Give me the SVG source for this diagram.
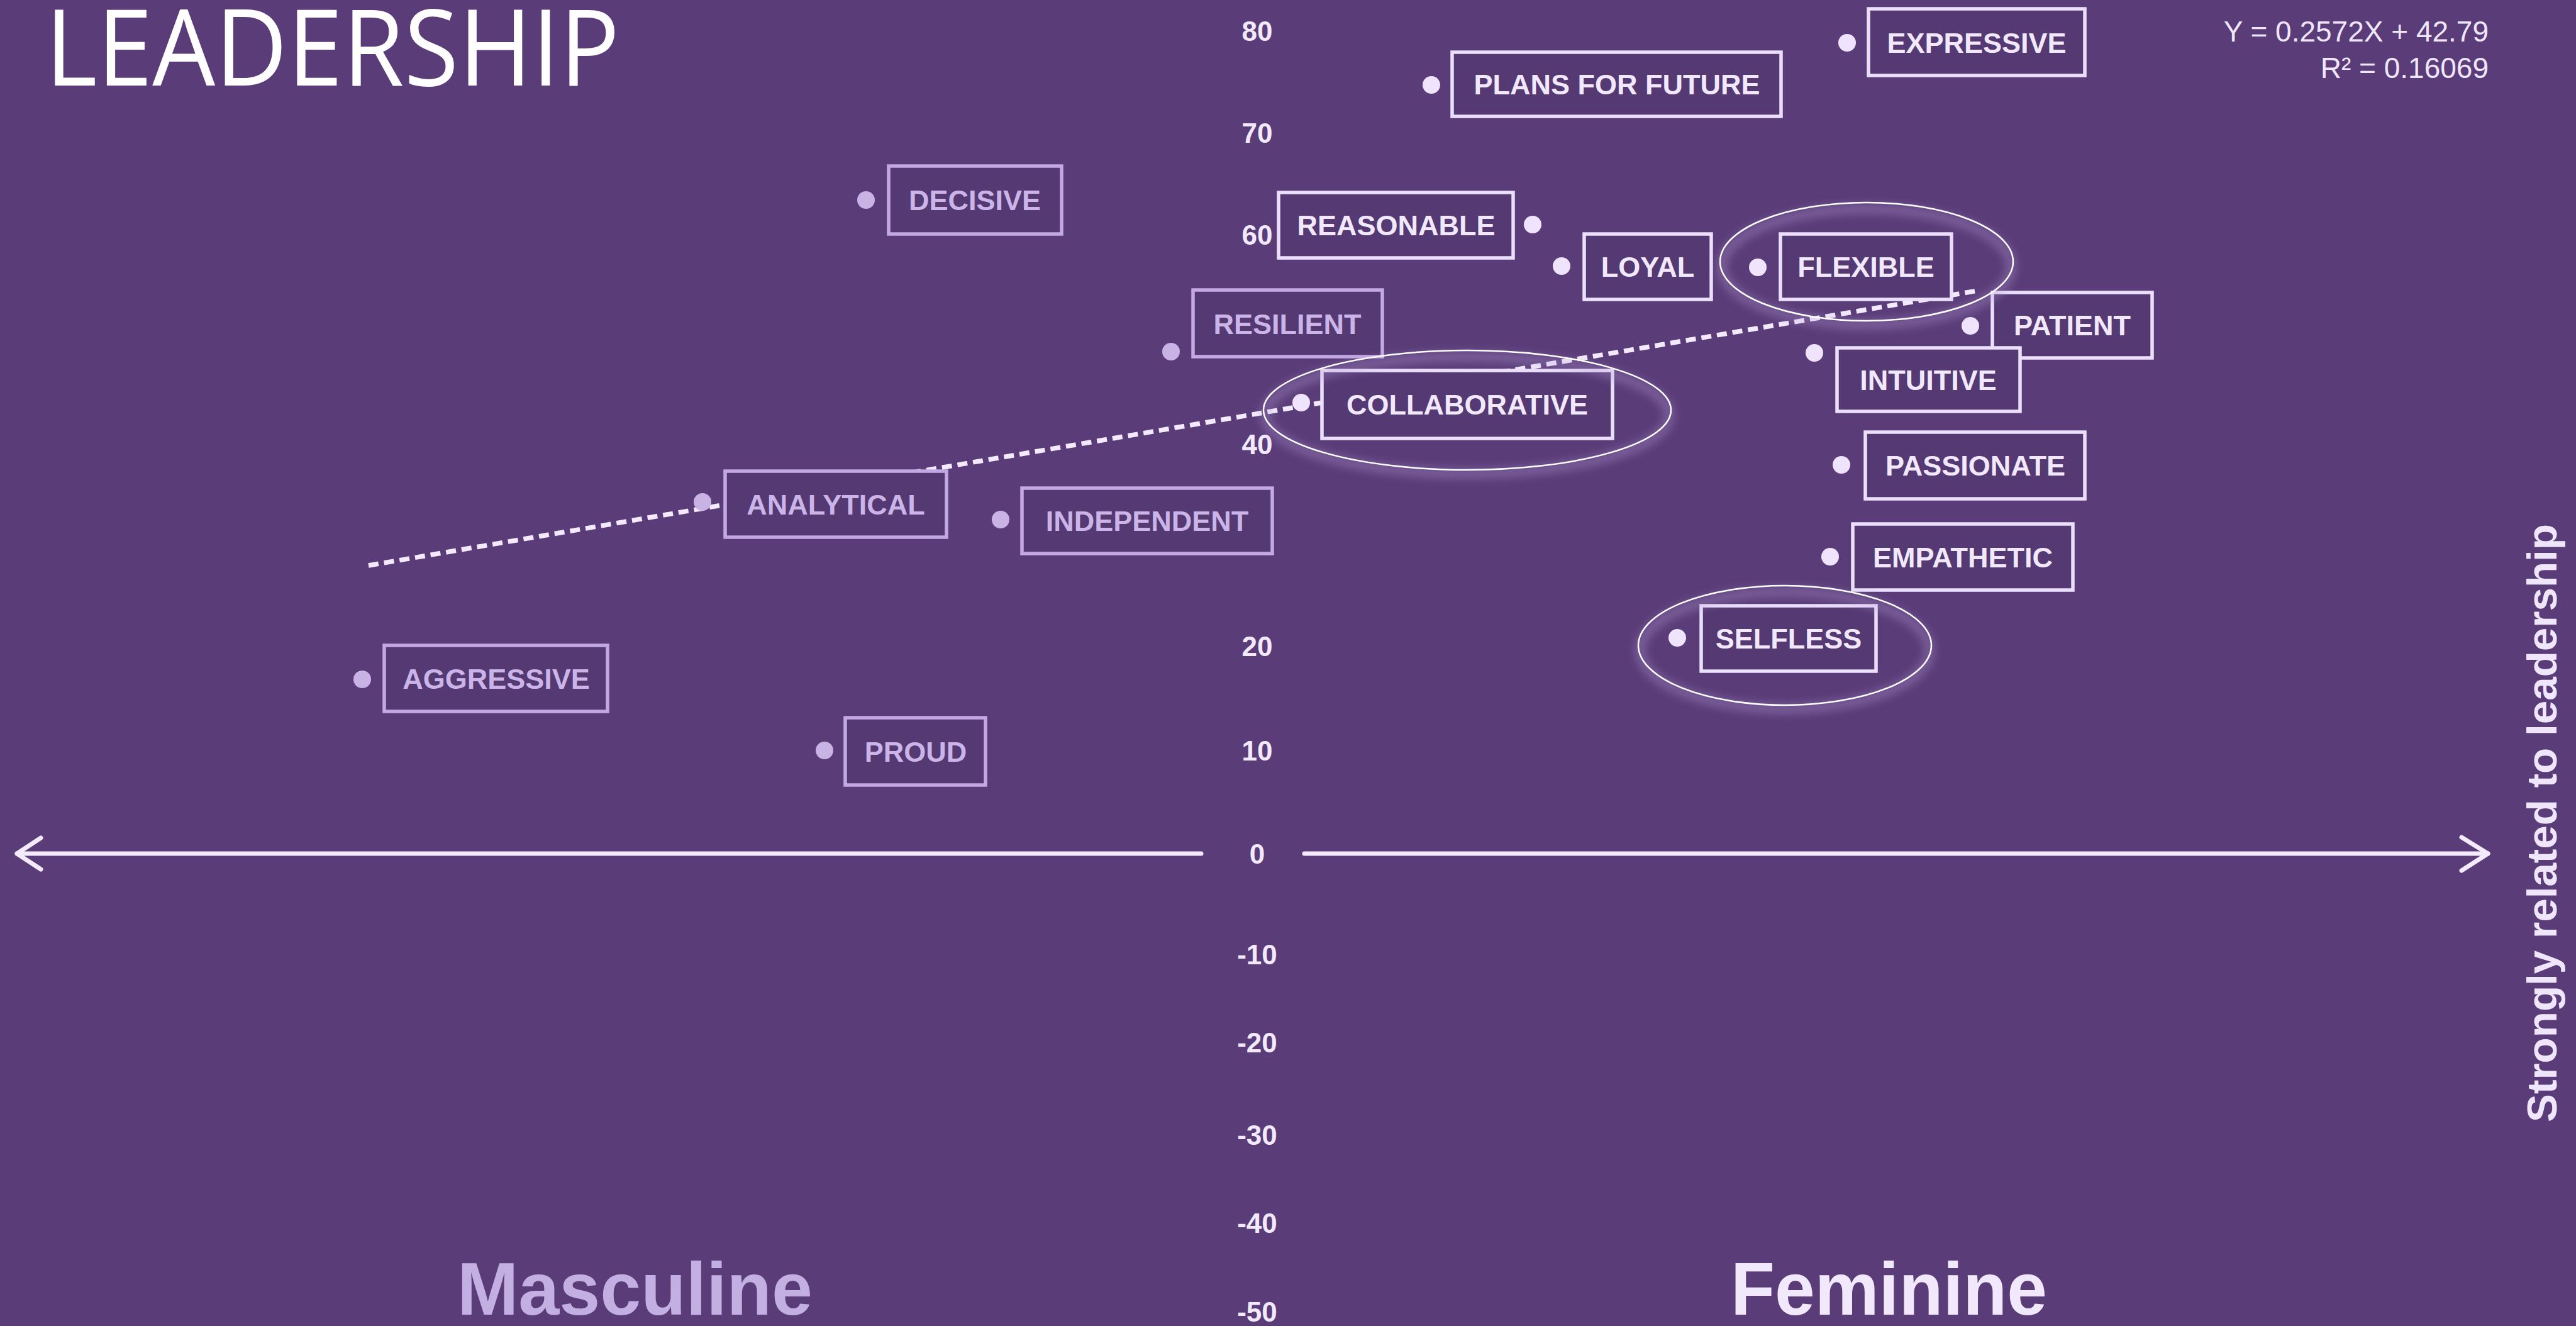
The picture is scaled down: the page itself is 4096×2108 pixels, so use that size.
<svg xmlns="http://www.w3.org/2000/svg" width="4096" height="2108" viewBox="0 0 4096 2108">
<defs>
<style>
.bx{fill:#543973;stroke-width:5.5}
.bx.f{stroke:#ecdffb}
.bx.m{stroke:#c3a9e2}
.lb{font-family:"Liberation Sans",Arial,sans-serif;font-weight:bold;font-size:45px;text-anchor:middle}
.lb.f{fill:#f1e8fc}
.lb.m{fill:#cbb5e8}
.dt.f{fill:#efe4fb}
.dt.m{fill:#c9b3e4}
.num{font-family:"Liberation Sans",Arial,sans-serif;font-weight:bold;font-size:44px;fill:#f2eafc;text-anchor:middle}
.eq{font-family:"Liberation Sans",Arial,sans-serif;font-size:46px;fill:#efe6fb;text-anchor:end}
.ring{fill:none;stroke:#ffffff;stroke-width:2.5}
.halo{fill:none;stroke:#b79ed9;stroke-width:16;opacity:0.35}
.axis{stroke:#f3ebfc;stroke-width:7;fill:none;stroke-linecap:round;stroke-linejoin:round}
</style>
<filter id="blur" x="-20%" y="-20%" width="140%" height="140%"><feGaussianBlur stdDeviation="7"/></filter>
</defs>
<rect width="4096" height="2108" fill="#5a3d78"/>

<text x="72" y="136" font-family="'Open Sans','Noto Sans',sans-serif" font-size="168" fill="#ffffff" textLength="913" lengthAdjust="spacingAndGlyphs">LEADERSHIP</text>

<g id="equation">
<text class="eq" x="3957" y="66">Y = 0.2572X + 42.79</text>
<text class="eq" x="3957" y="124">R² = 0.16069</text>
</g>

<g id="y-axis-labels">
<text class="num" x="1999" y="65">80</text>
<text class="num" x="1999" y="227">70</text>
<text class="num" x="1999" y="389">60</text>
<text class="num" x="1999" y="722">40</text>
<text class="num" x="1999" y="1043">20</text>
<text class="num" x="1999" y="1209">10</text>
<text class="num" x="1999" y="1373">0</text>
<text class="num" x="1999" y="1533">-10</text>
<text class="num" x="1999" y="1673">-20</text>
<text class="num" x="1999" y="1820">-30</text>
<text class="num" x="1999" y="1960">-40</text>
<text class="num" x="1999" y="2101">-50</text>
</g>

<g id="connectors">
<g id="x-axis">
<line class="axis" x1="27" y1="1357" x2="1910" y2="1357"/>
<polyline class="axis" points="65,1332 27,1357 65,1382"/>
<line class="axis" x1="2074" y1="1357" x2="3956" y2="1357"/>
<polyline class="axis" points="3914,1331 3956,1357 3914,1384"/>
</g>
<line id="trendline" x1="586" y1="899" x2="3145" y2="462" stroke="#f3ebfd" stroke-width="7.5" stroke-dasharray="16 9"/>
</g>

<g id="node-expressive"><rect class="bx f" x="2971" y="14" width="344" height="106"/><text class="lb f" x="3143" y="84">EXPRESSIVE</text><circle class="dt f" cx="2937" cy="68" r="14"/></g>
<g id="node-plans-for-future"><rect class="bx f" x="2309" y="83" width="523" height="102"/><text class="lb f" x="2571" y="150">PLANS FOR FUTURE</text><circle class="dt f" cx="2276" cy="135" r="14"/></g>
<g id="node-decisive"><rect class="bx m" x="1413" y="264" width="275" height="108"/><text class="lb m" x="1550" y="334">DECISIVE</text><circle class="dt m" cx="1377" cy="318" r="14"/></g>
<g id="node-reasonable"><rect class="bx f" x="2033" y="306" width="373" height="104"/><text class="lb f" x="2220" y="374">REASONABLE</text><circle class="dt f" cx="2437" cy="357" r="14"/></g>
<g id="node-loyal"><rect class="bx f" x="2519" y="372" width="202" height="104"/><text class="lb f" x="2620" y="440">LOYAL</text><circle class="dt f" cx="2483" cy="423" r="14"/></g>
<g id="node-flexible"><rect class="bx f" x="2831" y="372" width="272" height="104"/><text class="lb f" x="2967" y="440">FLEXIBLE</text><circle class="dt f" cx="2795" cy="425" r="14"/></g>
<g id="node-resilient"><rect class="bx m" x="1897" y="461" width="301" height="106"/><text class="lb m" x="2047" y="531">RESILIENT</text><circle class="dt m" cx="1862" cy="559" r="14"/></g>
<g id="node-patient"><rect class="bx f" x="3168" y="465" width="254" height="104"/><text class="lb f" x="3295" y="533">PATIENT</text><circle class="dt f" cx="3133" cy="518" r="14"/></g>
<g id="node-intuitive"><rect class="bx f" x="2921" y="553" width="291" height="101"/><text class="lb f" x="3066" y="620">INTUITIVE</text><circle class="dt f" cx="2885" cy="561" r="14"/></g>
<g id="node-collaborative"><rect class="bx f" x="2102" y="589" width="462" height="108"/><text class="lb f" x="2333" y="659">COLLABORATIVE</text><circle class="dt f" cx="2069" cy="640" r="14"/></g>
<g id="node-passionate"><rect class="bx f" x="2966" y="687" width="349" height="106"/><text class="lb f" x="3141" y="756">PASSIONATE</text><circle class="dt f" cx="2928" cy="739" r="14"/></g>
<g id="node-analytical"><rect class="bx m" x="1153" y="749" width="352" height="105"/><text class="lb m" x="1329" y="818">ANALYTICAL</text><circle class="dt m" cx="1117" cy="798" r="14"/></g>
<g id="node-independent"><rect class="bx m" x="1625" y="776" width="398" height="104"/><text class="lb m" x="1824" y="844">INDEPENDENT</text><circle class="dt m" cx="1591" cy="826" r="14"/></g>
<g id="node-empathetic"><rect class="bx f" x="2946" y="833" width="350" height="105"/><text class="lb f" x="3121" y="902">EMPATHETIC</text><circle class="dt f" cx="2910" cy="885" r="14"/></g>
<g id="node-selfless"><rect class="bx f" x="2705" y="963" width="278" height="104"/><text class="lb f" x="2844" y="1031">SELFLESS</text><circle class="dt f" cx="2667" cy="1014" r="14"/></g>
<g id="node-aggressive"><rect class="bx m" x="611" y="1026" width="355" height="105"/><text class="lb m" x="789" y="1095">AGGRESSIVE</text><circle class="dt m" cx="576" cy="1080" r="14"/></g>
<g id="node-proud"><rect class="bx m" x="1344" y="1141" width="223" height="107"/><text class="lb m" x="1456" y="1211">PROUD</text><circle class="dt m" cx="1311" cy="1193" r="14"/></g>

<g id="highlights">
<g filter="url(#blur)">
<ellipse class="halo" cx="2968" cy="424" rx="230" ry="92"/>
<ellipse class="halo" cx="2333" cy="660" rx="321" ry="93"/>
<ellipse class="halo" cx="2838" cy="1034" rx="230" ry="93"/>
</g>
<ellipse class="ring" cx="2968" cy="416" rx="233" ry="94"/>
<ellipse class="ring" cx="2333" cy="652" rx="324" ry="95"/>
<ellipse class="ring" cx="2838" cy="1026" rx="233" ry="95"/>
</g>

<g id="labels">
<text x="727" y="2090" font-family="'Liberation Sans',Arial,sans-serif" font-weight="bold" font-size="119" fill="#c4afe2" textLength="565" lengthAdjust="spacingAndGlyphs">Masculine</text>
<text x="2752" y="2090" font-family="'Liberation Sans',Arial,sans-serif" font-weight="bold" font-size="119" fill="#f1e8fc" textLength="503" lengthAdjust="spacingAndGlyphs">Feminine</text>
<text transform="translate(4065,1784) rotate(-90)" font-family="'Liberation Sans',Arial,sans-serif" font-weight="bold" font-size="67" fill="#efe6fb" textLength="951" lengthAdjust="spacingAndGlyphs">Strongly related to leadership</text>
</g>
</svg>
